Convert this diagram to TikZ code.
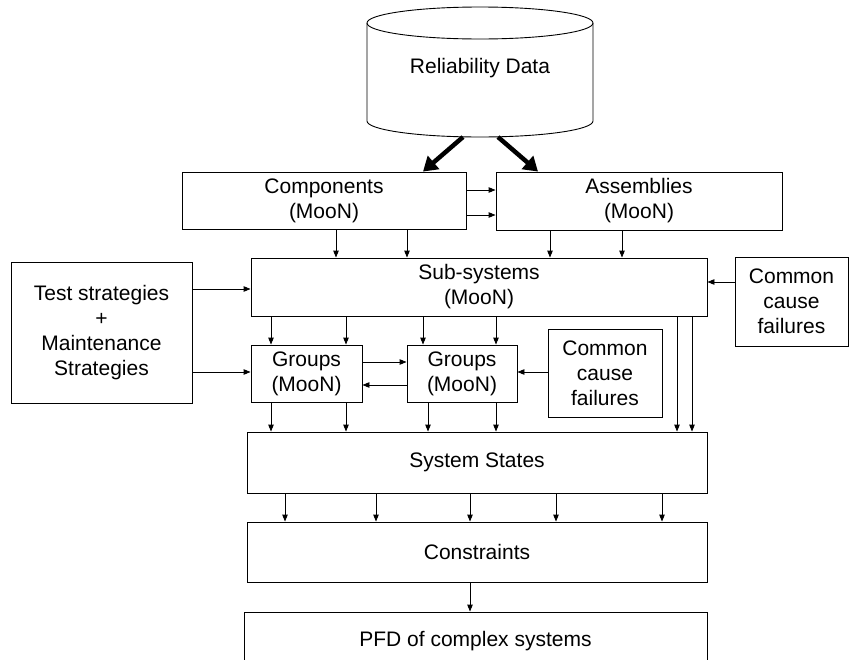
\documentclass[tikz,border=0pt]{standalone}
\usepackage{fontspec}
\setmainfont{Liberation Sans}
\usetikzlibrary{arrows.meta}

\begin{document}
\begin{tikzpicture}[x=1pt, y=-1pt, >={Triangle[length=7pt,width=5.5pt]},
    box/.style={draw, line width=0.9pt, align=center, inner sep=0pt, font=\fontsize{21}{25}\selectfont},
    link/.style={->, line width=0.9pt},
    fat/.style={-{Triangle[length=14pt,width=17pt]}, line width=4.5pt}]
    \useasboundingbox (0,0) rectangle (849,659);

    % Datenbank (Zylinder)
    \draw[line width=0.9pt] (480,23) ellipse [x radius=113pt, y radius=16pt];
    \draw[line width=0.9pt] (367,23) -- (367,121) arc[start angle=180, end angle=360, x radius=113pt, y radius=16pt] -- (593,23);
    \node[font=\fontsize{21}{25}\selectfont] (data) at (480,68) {Reliability Data};
    \coordinate (db) at (480,137);

    % Kaesten
    \node[box, minimum width=284pt, minimum height=57pt] (comp) at (324,200.5) {Components\\(MooN)};
    \node[box, minimum width=286pt, minimum height=58pt] (asm) at (639,201) {Assemblies\\(MooN)};
    \node[box, minimum width=456pt, minimum height=58pt] (sub) at (479,287) {Sub-systems\\(MooN)};
    \node[box, minimum width=181pt, minimum height=141pt] (test) at (101.5,332.5) {Test strategies\\+\\Maintenance\\Strategies};
    \node[box, minimum width=113pt, minimum height=89pt] (ccfa) at (791.5,301.5) {Common\\cause\\failures};
    \node[box, minimum width=111pt, minimum height=57pt] (grpa) at (306.5,373.5) {Groups\\(MooN)};
    \node[box, minimum width=110pt, minimum height=57pt] (grpb) at (462,373.5) {Groups\\(MooN)};
    \node[box, minimum width=114pt, minimum height=88pt] (ccfb) at (605,373) {Common\\cause\\failures};
    \node[box, minimum width=460pt, minimum height=61pt] (state) at (477,462.5) {System States};
    \node[box, minimum width=460pt, minimum height=60pt] (cons) at (477,552) {Constraints};
    \node[box, minimum width=463pt, minimum height=58pt] (pfd) at (475.5,641) {PFD of complex systems};

    % dicke Pfeile
    \draw[fat] (db) ++(-17,0) -- (423,0 |- comp.north);
    \draw[fat] (db) ++(18,0) -- (538,0 |- asm.north);

    % Pfeile
    \draw[link] (comp.east |- 0,190) -- (asm.west |- 0,190);
    \draw[link] (comp.east |- 0,215) -- (asm.west |- 0,215);
    \foreach \xx in {336,407} \draw[link] (\xx,0 |- comp.south) -- (\xx,0 |- sub.north);
    \foreach \xx in {550,622} \draw[link] (\xx,0 |- asm.south) -- (\xx,0 |- sub.north);
    \draw[link] (test.east |- 0,289) -- (sub.west |- 0,289);
    \draw[link] (test.east |- 0,372) -- (grpa.west |- 0,372);
    \draw[link] (ccfa.west |- 0,282) -- (sub.east |- 0,282);
    \foreach \xx in {271,346} \draw[link] (\xx,0 |- sub.south) -- (\xx,0 |- grpa.north);
    \foreach \xx in {423,496} \draw[link] (\xx,0 |- sub.south) -- (\xx,0 |- grpb.north);
    \foreach \xx in {677,692} \draw[link] (\xx,0 |- sub.south) -- (\xx,0 |- state.north);
    \draw[link] (grpa.east |- 0,362) -- (grpb.west |- 0,362);
    \draw[link] (grpb.west |- 0,385) -- (grpa.east |- 0,385);
    \draw[link] (ccfb.west |- 0,372) -- (grpb.east |- 0,372);
    \foreach \xx in {271,346} \draw[link] (\xx,0 |- grpa.south) -- (\xx,0 |- state.north);
    \foreach \xx in {428,496} \draw[link] (\xx,0 |- grpb.south) -- (\xx,0 |- state.north);
    \foreach \xx in {285,376,470,556,662} \draw[link] (\xx,0 |- state.south) -- (\xx,0 |- cons.north);
    \draw[link] (470,0 |- cons.south) -- (470,0 |- pfd.north);
\end{tikzpicture}
\end{document}
